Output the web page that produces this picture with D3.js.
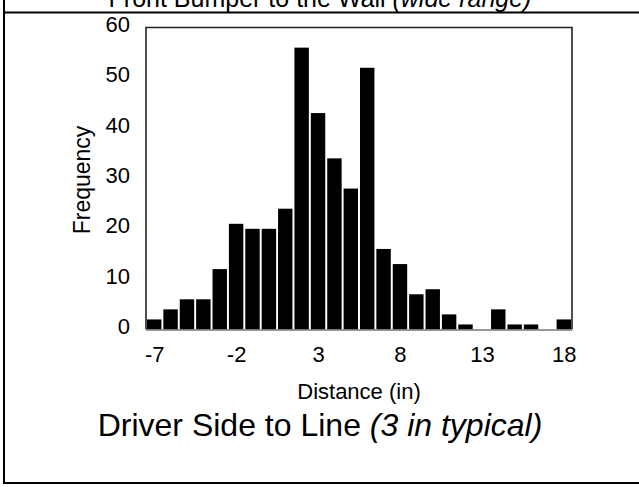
<!DOCTYPE html>
<html>
<head>
<meta charset="utf-8">
<script src="https://cdn.jsdelivr.net/npm/d3@7"></script>
<style>
	body { margin: 0; background: #fff; }
	svg { display: block; font-family: "Liberation Sans", Arial, sans-serif; }
</style>
</head>
<body>
<svg id="chart" width="639" height="487"></svg>
<script>
// distance bins (in) and how many cars landed in each
var distances = [-7, -6, -5, -4, -3, -2, -1, 0, 1, 2, 3, 4, 5, 6, 7, 8, 9, 10, 11, 12, 13, 14, 15, 16, 17, 18];
var counts    = [ 2,  4,  6,  6, 12, 21, 20, 20, 24, 56, 43, 34, 28, 52, 16, 13,  7,  8,  3,  1,  0,  4,  1,  1,  0,  2];
var xTicks = [-7, -2, 3, 8, 13, 18];
var yTicks = [0, 10, 20, 30, 40, 50, 60];

var svg = d3.select('#chart');

var plot = { left: 146, right: 572, top: 27.5, bottom: 329.5 };
var tickFont = 22;

var xScale = d3.scaleBand()
	.domain(distances)
	.range([plot.left, plot.right])
	.paddingInner(0.12)
	.paddingOuter(0.06);

var yScale = d3.scaleLinear()
	.domain([0, 60])
	.range([plot.bottom, plot.top]);

// outer frame left over from the page this chart was cut from
svg.append('line')
	.attr('x1', 4).attr('x2', 4).attr('y1', 0).attr('y2', 484)
	.attr('stroke', '#000').attr('stroke-width', 2);
svg.append('line')
	.attr('x1', 4).attr('x2', 639).attr('y1', 483).attr('y2', 483)
	.attr('stroke', '#000').attr('stroke-width', 2);
svg.append('line')
	.attr('x1', 4).attr('x2', 639).attr('y1', 12.5).attr('y2', 12.5)
	.attr('stroke', '#000').attr('stroke-width', 2);

// previous chart title, mostly cut off at the top
var prevTitle = svg.append('text')
	.attr('x', 320).attr('y', 7)
	.attr('text-anchor', 'middle')
	.attr('font-size', 25)
	.attr('fill', '#000');
prevTitle.append('tspan').text('Front Bumper to the Wall ');
prevTitle.append('tspan').attr('font-style', 'italic').text('(wide range)');

// bars
svg.append('g')
	.selectAll('rect')
	.data(counts)
	.enter()
	.append('rect')
	.attr('x', function(d, i){ return xScale(distances[i]); })
	.attr('y', function(d){ return yScale(d); })
	.attr('width', xScale.bandwidth())
	.attr('height', function(d){ return yScale(0) - yScale(d); })
	.attr('fill', '#000');

// plot box
svg.append('path')
	.attr('d', 'M' + plot.left + ',' + plot.bottom + 'V' + plot.top + 'H' + plot.right + 'V' + plot.bottom)
	.attr('fill', 'none')
	.attr('stroke', '#222')
	.attr('stroke-width', 1.6);
svg.append('line')
	.attr('x1', plot.left).attr('x2', plot.right)
	.attr('y1', plot.bottom + 0.5).attr('y2', plot.bottom + 0.5)
	.attr('stroke', '#777').attr('stroke-width', 1.5);

// y axis labels (no tick marks in the original)
var yAxis = d3.axisLeft(yScale).tickValues(yTicks).tickSize(0).tickPadding(16);
var yg = svg.append('g')
	.attr('transform', 'translate(' + plot.left + ',0)')
	.call(yAxis);
yg.select('.domain').remove();
yg.selectAll('text')
	.attr('font-size', tickFont)
	.attr('font-family', '"Liberation Sans", Arial, sans-serif')
	.attr('fill', '#000')
	.attr('dy', '0.18em');

// x axis labels, centred under every fifth bar
var xPos = d3.scaleLinear()
	.domain([-7, 18])
	.range([xScale(-7) + xScale.bandwidth() / 2, xScale(18) + xScale.bandwidth() / 2]);
var xAxis = d3.axisBottom(xPos).tickValues(xTicks).tickSize(0).tickPadding(17).tickFormat(d3.format('d'));
var xg = svg.append('g')
	.attr('transform', 'translate(0,' + plot.bottom + ')')
	.call(xAxis);
xg.select('.domain').remove();
xg.selectAll('text')
	.attr('font-size', tickFont)
	.attr('font-family', '"Liberation Sans", Arial, sans-serif')
	.attr('fill', '#000')
	.text(function(d){ return d < 0 ? '-' + Math.abs(d) : d; });

// axis titles
svg.append('text')
	.attr('x', 359).attr('y', 399)
	.attr('text-anchor', 'middle')
	.attr('font-size', 22)
	.text('Distance (in)');
svg.append('text')
	.attr('transform', 'translate(90,180) rotate(-90)')
	.attr('text-anchor', 'middle')
	.attr('font-size', 23)
	.text('Frequency');

// chart title
var title = svg.append('text')
	.attr('x', 320).attr('y', 436)
	.attr('text-anchor', 'middle')
	.attr('font-size', 32);
title.append('tspan').text('Driver Side to Line ');
title.append('tspan').attr('font-style', 'italic').text('(3 in typical)');
</script>
</body>
</html>
